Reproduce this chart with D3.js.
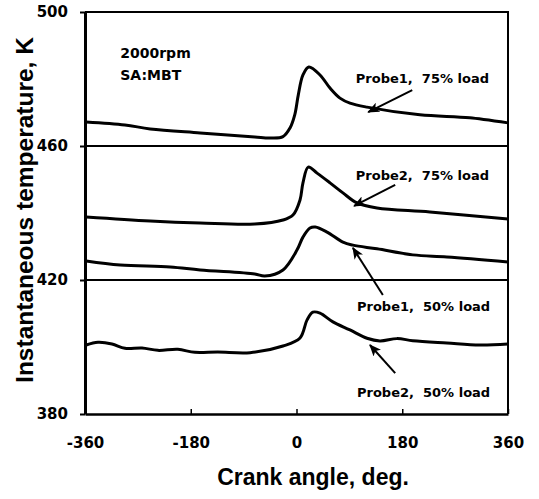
<!DOCTYPE html>
<html>
<head>
<meta charset="utf-8">
<script src="https://cdn.jsdelivr.net/npm/d3@7"></script>
<style>
  body { margin: 0; background: #fff; }
  .tick text { font-family: 'DejaVu Sans', sans-serif; font-weight: bold; font-size: 15px; fill: #000; }
  .note { font-family: 'DejaVu Sans', sans-serif; font-weight: bold; font-size: 13px; white-space: pre; }
  .title { font-family: 'Liberation Sans', Arial, sans-serif; font-weight: bold; }
</style>
</head>
<body>
<div class="chart"></div>
<script>
// crank angle ticks and temperature ticks
const xTicks = [-360, -180, 0, 180, 360]
const yTicks = [380, 420, 460, 500]
const gridTemps = [460, 420]

// Probe1, 75% load
const p1l75Angle = [-358, -292, -249, -164, -71, -45, -23, -11, -3, 3, 11, 21, 40, 57, 74, 91, 120, 210, 295, 360]
const p1l75Temp = [467.2, 466.3, 465.1, 463.9, 462.7, 462.4, 462.8, 465.4, 469.3, 475.2, 481.2, 483.6, 481.2, 477.3, 474.3, 472.8, 471.6, 469.3, 468.4, 466.9]

// Probe2, 75% load
const p2l75Angle = [-358, -249, -164, -71, -23, -6, 6, 11, 20, 35, 57, 79, 103, 137, 227, 360]
const p2l75Temp = [438.8, 437.6, 437.0, 436.7, 437.9, 439.4, 443.9, 449.0, 453.7, 451.9, 449.0, 446.0, 443.0, 441.5, 440.3, 438.2]

// Probe1, 50% load
const p1l50Angle = [-358, -300, -215, -164, -71, -54, -23, 1, 11, 23, 32, 52, 79, 96, 137, 198, 256, 360]
const p1l50Temp = [425.7, 424.5, 423.9, 423.0, 421.8, 421.2, 423.0, 429.0, 432.8, 435.5, 435.8, 434.3, 431.3, 430.4, 429.3, 427.5, 426.9, 425.4]

// Probe2, 50% load
const p2l50Angle = [-358, -338, -314, -292, -263, -236, -202, -173, -134, -79, -23, 6, 18, 28, 40, 62, 91, 120, 142, 171, 198, 256, 312, 360]
const p2l50Temp = [400.6, 401.4, 400.9, 399.6, 399.7, 399.0, 399.3, 398.4, 398.5, 398.3, 400.3, 402.7, 408.1, 410.4, 410.1, 407.5, 405.1, 402.6, 401.8, 402.5, 401.9, 401.2, 400.6, 400.9]

const series = [
    { angle: p1l75Angle, temp: p1l75Temp },
    { angle: p2l75Angle, temp: p2l75Temp },
    { angle: p1l50Angle, temp: p1l50Temp },
    { angle: p2l50Angle, temp: p2l50Temp }
]

// label text, label anchor [angle, temp], arrow from -> to
const notes = [
    { text: 'Probe1,  75% load', at: [101, 478.8], from: [197, 476.7], to: [122, 470.1] },
    { text: 'Probe2,  75% load', at: [101, 449.9], from: [168, 448.4], to: [98, 442.1] },
    { text: 'Probe1,  50% load', at: [103, 410.7], from: [147, 415.5], to: [96, 429.6] },
    { text: 'Probe2,  50% load', at: [103, 385.1], from: [168, 392.2], to: [125, 400.6] }
]

const margin = { top: 12, right: 31, bottom: 85, left: 85 },
    width = 539 - margin.left - margin.right,
    height = 499 - margin.top - margin.bottom

const svg = d3.select('.chart')
    .append('svg')
    .attr('width', 539)
    .attr('height', 499)
    .append('g')
    .attr('transform', `translate(${margin.left},${margin.top})`);

const x = d3.scaleLinear().domain([-360, 360]).range([0, width])
const y = d3.scaleLinear().domain([380, 500]).range([height, 0])

svg.append('defs').append('marker')
    .attr('id', 'head')
    .attr('viewBox', '0 0 12 10')
    .attr('refX', 11)
    .attr('refY', 5)
    .attr('markerWidth', 12)
    .attr('markerHeight', 10)
    .attr('markerUnits', 'userSpaceOnUse')
    .attr('orient', 'auto')
    .append('path')
    .attr('d', 'M0,0 L12,5 L0,10 L3,5 Z')
    .attr('fill', '#000');

// grid lines at 460 and 420
svg.selectAll('.grid')
    .data(gridTemps)
    .join('line')
    .attr('class', 'grid')
    .attr('x1', 0)
    .attr('x2', width)
    .attr('y1', d => y(d))
    .attr('y2', d => y(d))
    .attr('stroke', '#000')
    .attr('stroke-width', 2);

// frame top and right
svg.append('path')
    .attr('d', `M0,0 H${width} V${height}`)
    .attr('fill', 'none')
    .attr('stroke', '#000')
    .attr('stroke-width', 2);

const xAxis = svg.append('g')
    .attr('transform', `translate(0,${height})`)
    .call(d3.axisBottom(x).tickValues(xTicks).tickFormat(d => String(d))
        .tickSizeInner(-5).tickSizeOuter(0).tickPadding(23));
xAxis.select('.domain').attr('stroke-width', 2.5);
xAxis.selectAll('.tick line').attr('stroke-width', 1.5);

const yAxis = svg.append('g')
    .call(d3.axisLeft(y).tickValues(yTicks).tickFormat(d => String(d))
        .tickSizeInner(5).tickSizeOuter(0).tickPadding(12));
yAxis.select('.domain').attr('stroke-width', 3);
yAxis.selectAll('.tick line').attr('stroke-width', 2);

const line = d3.line()
    .x(d => x(d[0]))
    .y(d => y(d[1]))
    .curve(d3.curveCatmullRom.alpha(0.5));

svg.selectAll('.curve')
    .data(series)
    .join('path')
    .attr('class', 'curve')
    .attr('d', s => line(s.angle.map((a, i) => [a, s.temp[i]])))
    .attr('fill', 'none')
    .attr('stroke', '#000')
    .attr('stroke-width', 3)
    .attr('stroke-linejoin', 'round');

svg.selectAll('.arrow')
    .data(notes)
    .join('line')
    .attr('class', 'arrow')
    .attr('x1', d => x(d.from[0]))
    .attr('y1', d => y(d.from[1]))
    .attr('x2', d => x(d.to[0]))
    .attr('y2', d => y(d.to[1]))
    .attr('stroke', '#000')
    .attr('stroke-width', 2)
    .attr('marker-end', 'url(#head)');

svg.selectAll('.note')
    .data(notes)
    .join('text')
    .attr('class', 'note')
    .attr('x', d => x(d.at[0]))
    .attr('y', d => y(d.at[1]))
    .text(d => d.text);

svg.append('text')
    .attr('class', 'note')
    .style('font-size', '14px')
    .attr('x', x(-300))
    .attr('y', y(486.3))
    .text('2000rpm');

svg.append('text')
    .attr('class', 'note')
    .style('font-size', '14px')
    .attr('x', x(-300))
    .attr('y', y(479.7))
    .text('SA:MBT');

svg.append('text')
    .attr('class', 'title')
    .style('font-size', '23px')
    .attr('x', 313 - margin.left)
    .attr('y', 485 - margin.top)
    .attr('text-anchor', 'middle')
    .text('Crank angle, deg.');

svg.append('text')
    .attr('class', 'title')
    .style('font-size', '24.5px')
    .attr('transform', `translate(${33 - margin.left},${210 - margin.top}) rotate(-90)`)
    .attr('text-anchor', 'middle')
    .text('Instantaneous temperature, K');
</script>
</body>
</html>
